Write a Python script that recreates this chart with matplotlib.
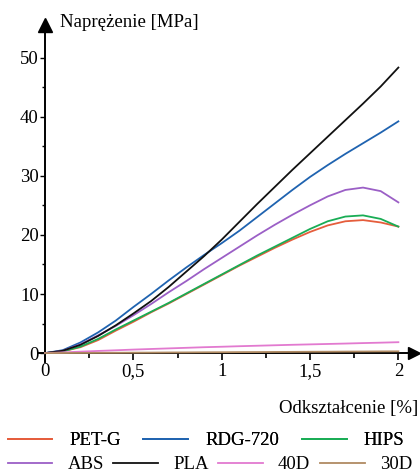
import matplotlib
matplotlib.use("Agg")
import matplotlib.pyplot as plt
from matplotlib.ticker import MultipleLocator, FuncFormatter

plt.rcParams["font.family"] = ["Liberation Serif", "DejaVu Serif"]

FONT = 13.5

strain = [0.0, 0.1, 0.2, 0.3, 0.4, 0.5, 0.6, 0.7, 0.8, 0.9, 1.0,
          1.1, 1.2, 1.3, 1.4, 1.5, 1.6, 1.7, 1.8, 1.9, 2.0]

pet_g = [0, 0.3, 1.0, 2.2, 3.8, 5.3, 6.9, 8.4, 10.0, 11.6, 13.2,
         14.8, 16.3, 17.8, 19.2, 20.5, 21.6, 22.3, 22.5, 22.1, 21.4]
rdg_720 = [0, 0.5, 1.8, 3.5, 5.5, 7.8, 10.0, 12.3, 14.5, 16.6, 18.6,
           20.7, 23.0, 25.3, 27.6, 29.8, 31.8, 33.7, 35.5, 37.3, 39.2]
hips = [0, 0.3, 1.1, 2.4, 4.0, 5.5, 7.0, 8.5, 10.1, 11.7, 13.3,
        14.9, 16.5, 18.0, 19.5, 21.0, 22.3, 23.1, 23.3, 22.7, 21.4]
abs_ = [0, 0.4, 1.5, 3.0, 4.6, 6.4, 8.3, 10.3, 12.2, 14.2, 16.1,
        18.0, 19.9, 21.7, 23.4, 25.0, 26.5, 27.6, 28.0, 27.4, 25.5]
pla = [0, 0.4, 1.4, 2.9, 4.7, 6.7, 8.8, 11.2, 13.8, 16.4, 19.2,
       22.2, 25.2, 28.1, 31.0, 33.8, 36.6, 39.4, 42.2, 45.1, 48.3]
d40 = [0, 0.12, 0.25, 0.37, 0.48, 0.6, 0.7, 0.8, 0.9, 1.0, 1.08,
       1.17, 1.25, 1.33, 1.41, 1.48, 1.55, 1.62, 1.7, 1.77, 1.85]
d30 = [0, 0.02, 0.03, 0.05, 0.06, 0.08, 0.09, 0.11, 0.12, 0.14, 0.15,
       0.17, 0.18, 0.2, 0.21, 0.23, 0.24, 0.26, 0.27, 0.29, 0.3]

series_row1 = [("PET-G", pet_g, "#e55d3c"), ("RDG-720", rdg_720, "#1f63b0"),
               ("HIPS", hips, "#19ad55")]
series_row2 = [("ABS", abs_, "#9b5fc6"), ("PLA", pla, "#111111"),
               ("40D", d40, "#e27ad0"), ("30D", d30, "#b08a62")]

fig = plt.figure(figsize=(4.2, 4.75), dpi=100)
ax = fig.add_axes([0.0905, 0.2379, 0.895, 0.7095])

handles1, handles2 = [], []
for name, vals, col in series_row1:
    h, = ax.plot(strain, vals, color=col, linewidth=1.3, label=name, zorder=3)
    handles1.append(h)
for name, vals, col in series_row2:
    h, = ax.plot(strain, vals, color=col, linewidth=1.3, label=name, zorder=3)
    handles2.append(h)
ax.set_xlim(-0.04, 2.088)
ax.set_ylim(-1.5, 55.5)

for s in ["top", "right"]:
    ax.spines[s].set_visible(False)
ax.spines["left"].set_position(("data", 0))
ax.spines["bottom"].set_position(("data", 0))
for s in ["left", "bottom"]:
    ax.spines[s].set_linewidth(1.4)

# arrow heads at the axis ends
ax.plot(1, 0, ">k", markersize=9, transform=ax.get_yaxis_transform(), clip_on=False)
ax.plot(0, 1, "^k", markersize=10, transform=ax.get_xaxis_transform(), clip_on=False)

ax.xaxis.set_major_locator(MultipleLocator(0.5))
ax.xaxis.set_minor_locator(MultipleLocator(0.25))
ax.yaxis.set_major_locator(MultipleLocator(10))
ax.yaxis.set_minor_locator(MultipleLocator(5))
ax.set_xticks([0, 0.5, 1, 1.5, 2])
ax.set_yticks([0, 10, 20, 30, 40, 50])
ax.xaxis.set_major_formatter(FuncFormatter(lambda v, p: f"{v:g}".replace(".", ",")))
ax.tick_params(axis="x", which="major", direction="out", length=5, width=1.2,
               labelsize=FONT, pad=2)
ax.tick_params(axis="x", which="minor", direction="out", length=3.5, width=1.2)
ax.tick_params(axis="y", which="major", direction="out", length=3.5, width=1.0,
               labelsize=FONT, pad=1)
ax.tick_params(axis="y", which="minor", direction="out", length=2, width=1.0)

fig.text(0.143, 0.953, "Naprężenie [MPa]", fontsize=FONT, ha="left", va="center")
fig.text(0.995, 0.141, "Odkształcenie [%]", fontsize=FONT, ha="right", va="center")

leg1 = fig.legend(handles=handles1, loc="center left", bbox_to_anchor=(0.0, 0.072),
                  ncol=3, frameon=False, fontsize=FONT, handlelength=2.4,
                  handletextpad=0.9, columnspacing=1.2, borderaxespad=0)
fig.legend(handles=handles2, loc="center left", bbox_to_anchor=(0.0, 0.022),
           ncol=4, frameon=False, fontsize=FONT, handlelength=2.4,
           handletextpad=0.8, columnspacing=0.5, borderaxespad=0)
fig.add_artist(leg1)

fig.savefig("out.png", dpi=100)
